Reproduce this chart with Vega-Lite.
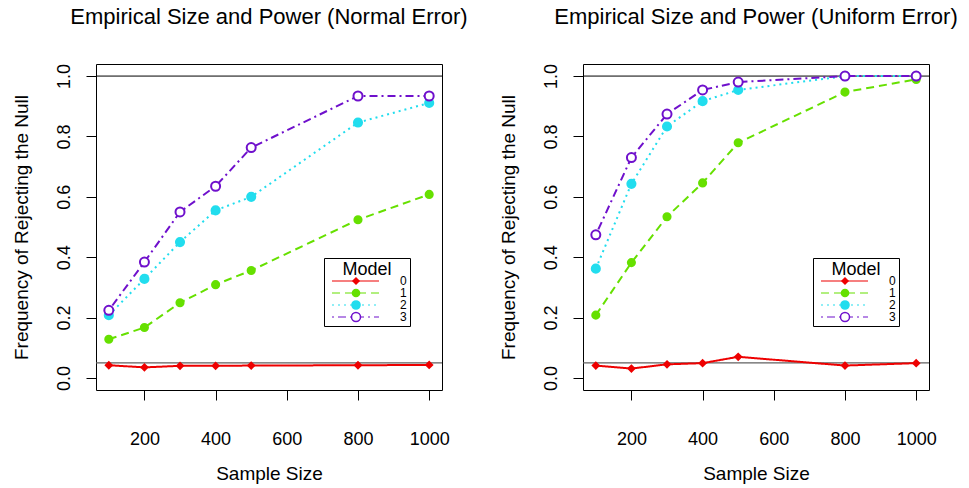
{
  "$schema": "https://vega.github.io/schema/vega-lite/v6.json",
  "background": "white",
  "padding": {"left": 11, "top": 5, "right": 5, "bottom": 5},
  "config": {
    "font": "Liberation Sans",
    "view": {"stroke": "black", "strokeWidth": 1},
    "axis": {
      "domain": false, "grid": false, "ticks": true, "tickColor": "black", "tickSize": 10, "tickWidth": 1, "tickOpacity": 1,
      "labelFontSize": 18, "labelColor": "black", "labelFont": "Liberation Sans",
      "titleFontSize": 19, "titleFontWeight": "normal", "titleColor": "black", "titleFont": "Liberation Sans",
      "labelFlush": false, "labelOverlap": false
    },
    "title": {"fontSize": 22, "fontWeight": "normal", "font": "Liberation Sans", "offset": 35, "anchor": "middle", "color": "black"},
    "legend": {"labelFont": "Liberation Sans", "titleFont": "Liberation Sans"}
  },
  "datasets": {
    "normal": [
      {"n": 100, "rate": 0.042, "model": "0"}, {"n": 200, "rate": 0.035, "model": "0"}, {"n": 300, "rate": 0.040, "model": "0"}, {"n": 400, "rate": 0.040, "model": "0"}, {"n": 500, "rate": 0.041, "model": "0"}, {"n": 800, "rate": 0.042, "model": "0"}, {"n": 1000, "rate": 0.043, "model": "0"},
      {"n": 100, "rate": 0.128, "model": "1"}, {"n": 200, "rate": 0.167, "model": "1"}, {"n": 300, "rate": 0.249, "model": "1"}, {"n": 400, "rate": 0.309, "model": "1"}, {"n": 500, "rate": 0.356, "model": "1"}, {"n": 800, "rate": 0.524, "model": "1"}, {"n": 1000, "rate": 0.608, "model": "1"},
      {"n": 100, "rate": 0.208, "model": "2"}, {"n": 200, "rate": 0.328, "model": "2"}, {"n": 300, "rate": 0.450, "model": "2"}, {"n": 400, "rate": 0.555, "model": "2"}, {"n": 500, "rate": 0.600, "model": "2"}, {"n": 800, "rate": 0.846, "model": "2"}, {"n": 1000, "rate": 0.911, "model": "2"},
      {"n": 100, "rate": 0.224, "model": "3"}, {"n": 200, "rate": 0.384, "model": "3"}, {"n": 300, "rate": 0.550, "model": "3"}, {"n": 400, "rate": 0.635, "model": "3"}, {"n": 500, "rate": 0.763, "model": "3"}, {"n": 800, "rate": 0.934, "model": "3"}, {"n": 1000, "rate": 0.934, "model": "3"}
    ],
    "uniform": [
      {"n": 100, "rate": 0.041, "model": "0"}, {"n": 200, "rate": 0.031, "model": "0"}, {"n": 300, "rate": 0.045, "model": "0"}, {"n": 400, "rate": 0.049, "model": "0"}, {"n": 500, "rate": 0.070, "model": "0"}, {"n": 800, "rate": 0.041, "model": "0"}, {"n": 1000, "rate": 0.049, "model": "0"},
      {"n": 100, "rate": 0.208, "model": "1"}, {"n": 200, "rate": 0.382, "model": "1"}, {"n": 300, "rate": 0.534, "model": "1"}, {"n": 400, "rate": 0.646, "model": "1"}, {"n": 500, "rate": 0.779, "model": "1"}, {"n": 800, "rate": 0.947, "model": "1"}, {"n": 1000, "rate": 0.989, "model": "1"},
      {"n": 100, "rate": 0.362, "model": "2"}, {"n": 200, "rate": 0.643, "model": "2"}, {"n": 300, "rate": 0.833, "model": "2"}, {"n": 400, "rate": 0.917, "model": "2"}, {"n": 500, "rate": 0.954, "model": "2"}, {"n": 800, "rate": 1.0, "model": "2"}, {"n": 1000, "rate": 1.0, "model": "2"},
      {"n": 100, "rate": 0.474, "model": "3"}, {"n": 200, "rate": 0.730, "model": "3"}, {"n": 300, "rate": 0.874, "model": "3"}, {"n": 400, "rate": 0.954, "model": "3"}, {"n": 500, "rate": 0.980, "model": "3"}, {"n": 800, "rate": 1.0, "model": "3"}, {"n": 1000, "rate": 1.0, "model": "3"}
    ]
  },
  "spacing": 29,
  "resolve": {
    "scale": {"x": "independent", "y": "independent", "stroke": "independent", "fill": "independent", "strokeDash": "independent", "shape": "independent", "size": "independent"}
  },
  "hconcat": [
    {
      "width": 346, "height": 326,
      "title": {"text": "Empirical Size and Power (Normal Error)"},
      "data": {"name": "normal"},
      "resolve": {"scale": {"stroke": "independent", "fill": "independent", "strokeDash": "independent", "shape": "independent", "size": "independent"}},
      "layer": [
        {"data": {"values": [{}]}, "mark": {"type": "rule", "color": "black", "strokeWidth": 1}, "encoding": {"y": {"datum": 1, "type": "quantitative", "scale": {"domain": [-0.04, 1.04], "nice": false, "zero": false}, "title": "Frequency of Rejecting the Null", "axis": {"values": [0, 0.2, 0.4, 0.6, 0.8, 1.0], "format": ".1f", "labelAngle": -90, "labelAlign": "center", "labelBaseline": "bottom", "labelPadding": 13, "titlePadding": 24, "title": "Frequency of Rejecting the Null"}}}},
        {"data": {"values": [{}]}, "mark": {"type": "rule", "color": "#606060", "strokeWidth": 1.3}, "encoding": {"y": {"datum": 0.05, "type": "quantitative", "title": "Frequency of Rejecting the Null"}}},
        {
          "mark": {"type": "line", "strokeWidth": 2},
          "encoding": {
            "x": {"field": "n", "type": "quantitative", "scale": {"domain": [64, 1036], "nice": false, "zero": false}, "title": "Sample Size", "axis": {"values": [200, 400, 600, 800, 1000], "format": "d", "labelPadding": 30, "titlePadding": 16, "title": "Sample Size"}},
            "y": {"field": "rate", "type": "quantitative", "title": "Frequency of Rejecting the Null"},
            "stroke": {"field": "model", "type": "nominal", "scale": {"domain": ["0", "1", "2", "3"], "range": ["#EE0000", "#66E000", "#22DDEE", "#6F10CC"]},
              "legend": {"title": "Model", "orient": "none", "legendX": 228, "legendY": 194, "symbolType": "stroke", "symbolSize": 2209, "symbolStrokeWidth": 1.2, "clipHeight": 12, "rowPadding": 0, "labelFontSize": 12, "labelColor": "black", "titleFontSize": 18, "titleColor": "black", "titleFontWeight": "normal", "titleAnchor": "middle", "titlePadding": -4, "padding": 3, "symbolOffset": 4, "strokeColor": "black", "fillColor": "white", "labelOffset": 20, "labelExpr": "datum.label + '\u00a0\u00a0\u00a0\u00a0\u00a0'", "zindex": 0}},
            "strokeDash": {"field": "model", "type": "nominal", "scale": {"domain": ["0", "1", "2", "3"], "range": [[1, 0], [8, 5], [2, 4], [2, 4, 8, 4]]},
              "legend": {"title": "Model", "orient": "none", "legendX": 228, "legendY": 194, "symbolType": "stroke", "symbolSize": 2209, "symbolStrokeWidth": 1.2, "clipHeight": 12, "rowPadding": 0, "labelFontSize": 12, "labelColor": "black", "titleFontSize": 18, "titleColor": "black", "titleFontWeight": "normal", "titleAnchor": "middle", "titlePadding": -4, "padding": 3, "symbolOffset": 4, "strokeColor": "black", "fillColor": "white", "labelOffset": 20, "labelExpr": "datum.label + '\u00a0\u00a0\u00a0\u00a0\u00a0'", "zindex": 0}}
          }
        },
        {
          "mark": {"type": "point", "filled": false, "strokeWidth": 2, "opacity": 1},
          "encoding": {
            "x": {"field": "n", "type": "quantitative", "title": "Sample Size"},
            "y": {"field": "rate", "type": "quantitative", "title": "Frequency of Rejecting the Null"},
            "stroke": {"field": "model", "type": "nominal", "scale": {"domain": ["0", "1", "2", "3"], "range": ["#EE0000", "#66E000", "#22DDEE", "#6F10CC"]},
              "legend": {"title": " ", "orient": "none", "legendX": 228, "legendY": 194, "symbolStrokeWidth": 1.5, "clipHeight": 12, "rowPadding": 0, "labelFontSize": 12, "labelColor": "transparent", "labelExpr": "' '", "titleFontSize": 18, "titleColor": "transparent", "titleFontWeight": "normal", "titleAnchor": "middle", "titlePadding": -4, "padding": 3, "symbolOffset": 23, "zindex": 1}},
            "fill": {"field": "model", "type": "nominal", "scale": {"domain": ["0", "1", "2", "3"], "range": ["#EE0000", "#66E000", "#22DDEE", "#FFFFFF"]},
              "legend": {"title": " ", "orient": "none", "legendX": 228, "legendY": 194, "symbolStrokeWidth": 1.5, "clipHeight": 12, "rowPadding": 0, "labelFontSize": 12, "labelColor": "transparent", "labelExpr": "' '", "titleFontSize": 18, "titleColor": "transparent", "titleFontWeight": "normal", "titleAnchor": "middle", "titlePadding": -4, "padding": 3, "symbolOffset": 23, "zindex": 1}},
            "size": {"field": "model", "type": "ordinal", "scale": {"domain": ["0", "1", "2", "3"], "range": [36, 81, 25, 81]},
              "legend": {"title": " ", "orient": "none", "legendX": 228, "legendY": 194, "symbolStrokeWidth": 1.5, "clipHeight": 12, "rowPadding": 0, "labelFontSize": 12, "labelColor": "transparent", "labelExpr": "' '", "titleFontSize": 18, "titleColor": "transparent", "titleFontWeight": "normal", "titleAnchor": "middle", "titlePadding": -4, "padding": 3, "symbolOffset": 23, "zindex": 1}},
            "shape": {"field": "model", "type": "nominal", "scale": {"domain": ["0", "1", "2", "3"], "range": ["diamond", "circle", "circle", "circle"]},
              "legend": {"title": " ", "orient": "none", "legendX": 228, "legendY": 194, "symbolStrokeWidth": 1.5, "clipHeight": 12, "rowPadding": 0, "labelFontSize": 12, "labelColor": "transparent", "labelExpr": "' '", "titleFontSize": 18, "titleColor": "transparent", "titleFontWeight": "normal", "titleAnchor": "middle", "titlePadding": -4, "padding": 3, "symbolOffset": 23, "zindex": 1}}
          }
        }
      ]
    },
    {
      "width": 346, "height": 326,
      "title": {"text": "Empirical Size and Power (Uniform Error)"},
      "data": {"name": "uniform"},
      "resolve": {"scale": {"stroke": "independent", "fill": "independent", "strokeDash": "independent", "shape": "independent", "size": "independent"}},
      "layer": [
        {"data": {"values": [{}]}, "mark": {"type": "rule", "color": "black", "strokeWidth": 1}, "encoding": {"y": {"datum": 1, "type": "quantitative", "scale": {"domain": [-0.04, 1.04], "nice": false, "zero": false}, "title": "Frequency of Rejecting the Null", "axis": {"values": [0, 0.2, 0.4, 0.6, 0.8, 1.0], "format": ".1f", "labelAngle": -90, "labelAlign": "center", "labelBaseline": "bottom", "labelPadding": 13, "titlePadding": 24, "title": "Frequency of Rejecting the Null"}}}},
        {"data": {"values": [{}]}, "mark": {"type": "rule", "color": "#606060", "strokeWidth": 1.3}, "encoding": {"y": {"datum": 0.05, "type": "quantitative", "title": "Frequency of Rejecting the Null"}}},
        {
          "mark": {"type": "line", "strokeWidth": 2},
          "encoding": {
            "x": {"field": "n", "type": "quantitative", "scale": {"domain": [64, 1036], "nice": false, "zero": false}, "title": "Sample Size", "axis": {"values": [200, 400, 600, 800, 1000], "format": "d", "labelPadding": 30, "titlePadding": 16, "title": "Sample Size"}},
            "y": {"field": "rate", "type": "quantitative", "title": "Frequency of Rejecting the Null"},
            "stroke": {"field": "model", "type": "nominal", "scale": {"domain": ["0", "1", "2", "3"], "range": ["#EE0000", "#66E000", "#22DDEE", "#6F10CC"]},
              "legend": {"title": "Model", "orient": "none", "legendX": 230, "legendY": 194, "symbolType": "stroke", "symbolSize": 2209, "symbolStrokeWidth": 1.2, "clipHeight": 12, "rowPadding": 0, "labelFontSize": 12, "labelColor": "black", "titleFontSize": 18, "titleColor": "black", "titleFontWeight": "normal", "titleAnchor": "middle", "titlePadding": -4, "padding": 3, "symbolOffset": 4, "strokeColor": "black", "fillColor": "white", "labelOffset": 20, "labelExpr": "datum.label + '\u00a0\u00a0\u00a0\u00a0\u00a0'", "zindex": 0}},
            "strokeDash": {"field": "model", "type": "nominal", "scale": {"domain": ["0", "1", "2", "3"], "range": [[1, 0], [8, 5], [2, 4], [2, 4, 8, 4]]},
              "legend": {"title": "Model", "orient": "none", "legendX": 230, "legendY": 194, "symbolType": "stroke", "symbolSize": 2209, "symbolStrokeWidth": 1.2, "clipHeight": 12, "rowPadding": 0, "labelFontSize": 12, "labelColor": "black", "titleFontSize": 18, "titleColor": "black", "titleFontWeight": "normal", "titleAnchor": "middle", "titlePadding": -4, "padding": 3, "symbolOffset": 4, "strokeColor": "black", "fillColor": "white", "labelOffset": 20, "labelExpr": "datum.label + '\u00a0\u00a0\u00a0\u00a0\u00a0'", "zindex": 0}}
          }
        },
        {
          "mark": {"type": "point", "filled": false, "strokeWidth": 2, "opacity": 1},
          "encoding": {
            "x": {"field": "n", "type": "quantitative", "title": "Sample Size"},
            "y": {"field": "rate", "type": "quantitative", "title": "Frequency of Rejecting the Null"},
            "stroke": {"field": "model", "type": "nominal", "scale": {"domain": ["0", "1", "2", "3"], "range": ["#EE0000", "#66E000", "#22DDEE", "#6F10CC"]},
              "legend": {"title": " ", "orient": "none", "legendX": 230, "legendY": 194, "symbolStrokeWidth": 1.5, "clipHeight": 12, "rowPadding": 0, "labelFontSize": 12, "labelColor": "transparent", "labelExpr": "' '", "titleFontSize": 18, "titleColor": "transparent", "titleFontWeight": "normal", "titleAnchor": "middle", "titlePadding": -4, "padding": 3, "symbolOffset": 23, "zindex": 1}},
            "fill": {"field": "model", "type": "nominal", "scale": {"domain": ["0", "1", "2", "3"], "range": ["#EE0000", "#66E000", "#22DDEE", "#FFFFFF"]},
              "legend": {"title": " ", "orient": "none", "legendX": 230, "legendY": 194, "symbolStrokeWidth": 1.5, "clipHeight": 12, "rowPadding": 0, "labelFontSize": 12, "labelColor": "transparent", "labelExpr": "' '", "titleFontSize": 18, "titleColor": "transparent", "titleFontWeight": "normal", "titleAnchor": "middle", "titlePadding": -4, "padding": 3, "symbolOffset": 23, "zindex": 1}},
            "size": {"field": "model", "type": "ordinal", "scale": {"domain": ["0", "1", "2", "3"], "range": [36, 81, 25, 81]},
              "legend": {"title": " ", "orient": "none", "legendX": 230, "legendY": 194, "symbolStrokeWidth": 1.5, "clipHeight": 12, "rowPadding": 0, "labelFontSize": 12, "labelColor": "transparent", "labelExpr": "' '", "titleFontSize": 18, "titleColor": "transparent", "titleFontWeight": "normal", "titleAnchor": "middle", "titlePadding": -4, "padding": 3, "symbolOffset": 23, "zindex": 1}},
            "shape": {"field": "model", "type": "nominal", "scale": {"domain": ["0", "1", "2", "3"], "range": ["diamond", "circle", "circle", "circle"]},
              "legend": {"title": " ", "orient": "none", "legendX": 230, "legendY": 194, "symbolStrokeWidth": 1.5, "clipHeight": 12, "rowPadding": 0, "labelFontSize": 12, "labelColor": "transparent", "labelExpr": "' '", "titleFontSize": 18, "titleColor": "transparent", "titleFontWeight": "normal", "titleAnchor": "middle", "titlePadding": -4, "padding": 3, "symbolOffset": 23, "zindex": 1}}
          }
        }
      ]
    }
  ]
}
